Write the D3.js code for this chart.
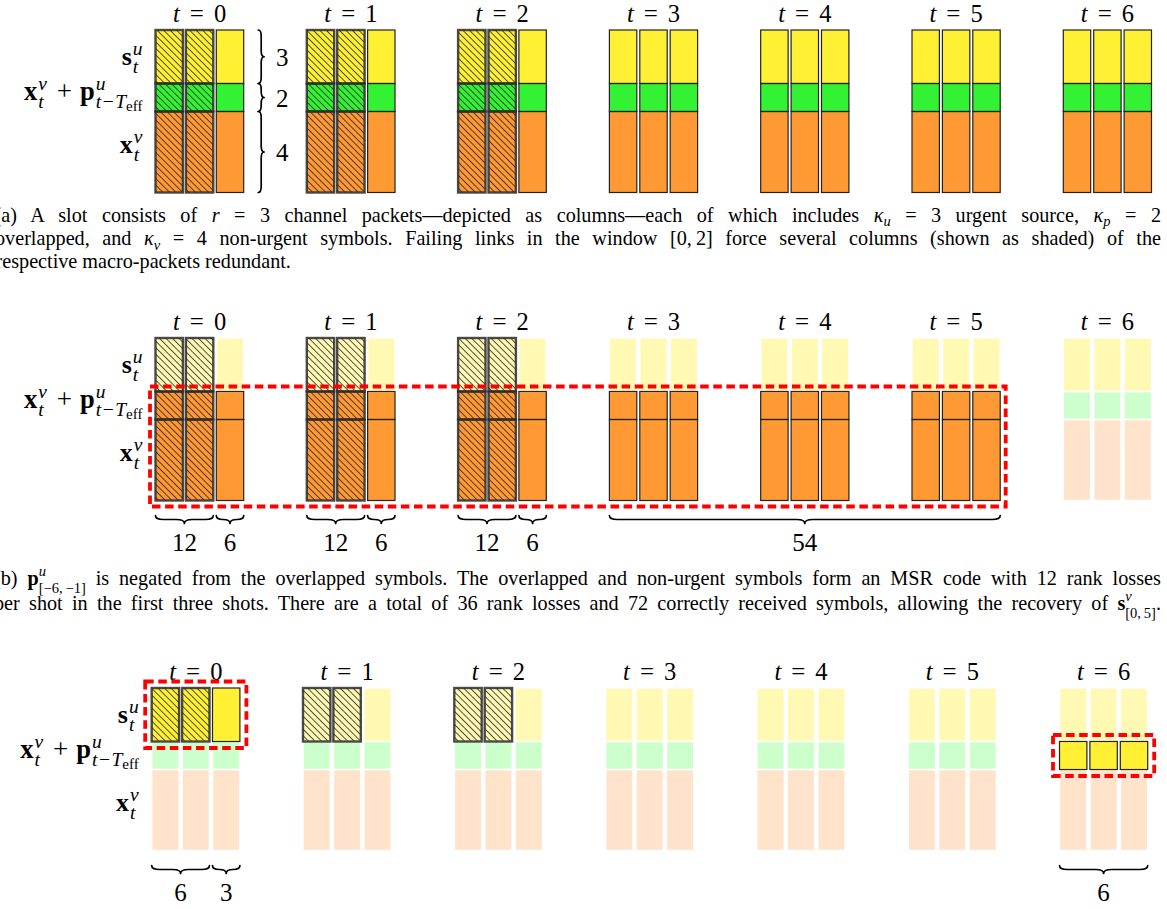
<!DOCTYPE html>
<html>
<head>
<meta charset="utf-8">
<script src="https://cdn.jsdelivr.net/npm/d3@7"></script>
<style>
  html, body { margin: 0; padding: 0; background: #fff; }
  svg { display: block; }
  text { font-family: "Liberation Serif", "Times New Roman", serif; fill: #000; }
</style>
</head>
<body>
<svg id="fig" width="1167" height="909"></svg>
<script>
// ---- data ---------------------------------------------------------------
// time slots of the window
const slots = [0, 1, 2, 3, 4, 5, 6];
// channel packets (columns) per slot
const packets = [0, 1, 2];
// symbols per channel packet: urgent, overlapped, non-urgent
const kappa = [3, 2, 4];
// columns lost to failing links in each slot
const lostColumns = [2, 2, 2, 0, 0, 0, 0];
// brace annotations
const kappaLabels = ["3", "2", "4"];
const rankLossLabels = ["12", "12", "12"];
const receivedLabels = ["6", "6", "6"];
const windowLabel = "54";
const urgentLabels = ["6", "3"];
const recoveredLabel = "6";

// ---- styling ------------------------------------------------------------
const fullFill = ["#FFF033", "#33F233", "#FF9933"];
const fadedFill = ["#FFF9B4", "#CCFFCC", "#FFE3CA"];

const svg = d3.select("#fig");
const defs = svg.append("defs");
const pat = defs.append("pattern")
  .attr("id", "hatch").attr("patternUnits", "userSpaceOnUse")
  .attr("width", 4.6).attr("height", 4.6)
  .attr("patternTransform", "rotate(-45)");
pat.append("line").attr("x1", 2.3).attr("x2", 2.3).attr("y1", -1).attr("y2", 6)
  .attr("stroke", "#1c1c1c").attr("stroke-width", 0.75);

// ---- scales -------------------------------------------------------------
const xSlot = d3.scaleLinear().domain([0, 6]).range([155.5, 155.5 + 6 * 151.3]);
const xCol = d3.scaleLinear().domain([0, 1]).range([0, 30.4]);
const colW = 27.4;
const rowEdges = [0, ...d3.cumsum(kappa)];           // 0,3,5,9
const yRow = d3.scaleLinear().domain(rowEdges).range([30, 83.5, 111.5, 192.5]);

const panels = [
  { id: "a", dx: 0, dy: 0 },
  { id: "b", dx: 0, dy: 308 },
  { id: "c", dx: -3.8, dy: 658 }
];

// ---- text measuring & simple math layout ---------------------------------
const meas = svg.append("text").attr("x", -2000).attr("y", -2000);
function fontAttrs(sel, r) {
  sel.attr("font-size", r.s || 26)
     .attr("font-style", r.f === "it" ? "italic" : "normal")
     .attr("font-weight", r.f === "bf" ? "bold" : "normal");
}
function textWidth(r) {
  fontAttrs(meas, r);
  meas.text(r.t);
  return meas.node().getComputedTextLength();
}
function layoutMath(items, supDy, subDy) {
  let x = 0; const runs = [];
  const place = (list, base, dy) => {
    let w = 0;
    list.forEach(r => {
      if (r.gap !== undefined) { w += r.gap; return; }
      runs.push({ ...r, x: base + w, dy: (r.dy || 0) + dy });
      w += textWidth(r);
    });
    return w;
  };
  items.forEach(it => {
    if (it.gap !== undefined) { x += it.gap; return; }
    if (it.sup || it.sub) {
      const w1 = place(it.sup || [], x, supDy);
      const w2 = place(it.sub || [], x, subDy);
      x += Math.max(w1, w2);
    } else {
      runs.push({ ...it, x, dy: it.dy || 0 });
      x += textWidth(it);
    }
  });
  return { runs, w: x };
}
function drawMath(g, x, y, items, anchor, supDy = -10.5, subDy = 7.5) {
  const L = layoutMath(items, supDy, subDy);
  const x0 = anchor === "end" ? x - L.w : anchor === "middle" ? x - L.w / 2 : x;
  L.runs.forEach(r => {
    const t = g.append("text").attr("x", x0 + r.x).attr("y", y + r.dy).text(r.t);
    fontAttrs(t, r);
  });
}

// ---- cell appearance per panel -------------------------------------------
function cellStyle(panel, t, c, r) {
  const lost = c < lostColumns[t];
  if (panel === "a") return { fill: fullFill[r], hatch: lost, edge: lost ? "heavy" : "thin" };
  if (panel === "b") {
    if (t === 6) return { fill: fadedFill[r], hatch: false, edge: "none" };
    if (r === 0) return { fill: fadedFill[0], hatch: lost, edge: lost ? "heavy" : "none" };
    return { fill: fullFill[2], hatch: lost, edge: lost ? "heavy" : "thin" };
  }
  if (r === 0) {
    if (t === 0) return { fill: fullFill[0], hatch: lost, edge: lost ? "heavy" : "thin" };
    return { fill: fadedFill[0], hatch: lost, edge: lost ? "heavy" : "none" };
  }
  if (r === 1 && t === 6) return { fill: fullFill[0], hatch: false, edge: "thin" };
  return { fill: fadedFill[r], hatch: false, edge: "none" };
}
const edgeRank = { none: 0, thin: 1, heavy: 2 };

// ---- braces ---------------------------------------------------------------
function braceDown(x1, x2, y, h) {
  const m = (x1 + x2) / 2, q = Math.min(h, (x2 - x1) / 4), yb = y + h / 2;
  return `M${x1},${y} Q${x1},${yb} ${x1 + q},${yb} L${m - q},${yb} Q${m},${yb} ${m},${y + h} ` +
         `Q${m},${yb} ${m + q},${yb} L${x2 - q},${yb} Q${x2},${yb} ${x2},${y}`;
}
function braceRight(y1, y2, x, h) {
  const m = (y1 + y2) / 2, q = Math.min(h, (y2 - y1) / 4), xb = x + h / 2;
  return `M${x},${y1} Q${xb},${y1} ${xb},${y1 + q} L${xb},${m - q} Q${xb},${m} ${x + h},${m} ` +
         `Q${xb},${m} ${xb},${m + q} L${xb},${y2 - q} Q${xb},${y2} ${x},${y2}`;
}
function drawBrace(g, d) {
  g.append("path").attr("d", d).attr("fill", "none").attr("stroke", "#000")
    .attr("stroke-width", 1.7).attr("stroke-linecap", "round").attr("stroke-linejoin", "round");
}

// ---- draw panels ------------------------------------------------------------
const S = 19.5;   // script size
const rowLabelItems = [
  [{ t: "s", f: "bf" }, { gap: 1 }, { sup: [{ t: "u", f: "it", s: S }], sub: [{ t: "t", f: "it", s: S }] }],
  [{ t: "x", f: "bf", s: 26.5 }, { gap: 1 }, { sup: [{ t: "v", f: "it", s: S }], sub: [{ t: "t", f: "it", s: S }] },
   { gap: 10 }, { t: "+", f: "rm", s: 27 }, { gap: 8 }, { t: "p", f: "bf", s: 26.5 }, { gap: 1 },
   { sup: [{ t: "u", f: "it", s: S }],
     sub: [{ t: "t", f: "it", s: S }, { gap: 1.5 }, { t: "\u2212", f: "rm", s: S }, { gap: 1.5 },
           { t: "T", f: "it", s: S }, { t: "eff", f: "rm", s: 15, dy: 3.5 }] }],
  [{ t: "x", f: "bf" }, { gap: 1 }, { sup: [{ t: "v", f: "it", s: S }], sub: [{ t: "t", f: "it", s: S }] }]
];
const rowLabelBase = [65, 100, 153];

panels.forEach(P => {
  const g = svg.append("g").attr("class", "panel-" + P.id);
  const cells = [];
  slots.forEach(t => packets.forEach(c => kappa.forEach((k, r) => {
    const st = cellStyle(P.id, t, c, r);
    const y0 = yRow(rowEdges[r]), y1 = yRow(rowEdges[r + 1]);
    cells.push({ x: P.dx + xSlot(t) + xCol(c), y: P.dy + y0, w: colW, h: y1 - y0, ...st });
  })));

  const fills = g.append("g"), hatches = g.append("g"), edges = g.append("g");
  fills.selectAll("rect").data(cells).join("rect")
    .attr("x", d => d.x).attr("y", d => d.y).attr("width", d => d.w).attr("height", d => d.h)
    .attr("fill", d => d.fill);
  hatches.selectAll("rect").data(cells.filter(d => d.hatch)).join("rect")
    .attr("x", d => d.x).attr("y", d => d.y).attr("width", d => d.w).attr("height", d => d.h)
    .attr("fill", "url(#hatch)");
  edges.selectAll("rect").data(cells.slice().sort((a, b) => edgeRank[a.edge] - edgeRank[b.edge])).join("rect")
    .attr("x", d => d.x).attr("y", d => d.y).attr("width", d => d.w).attr("height", d => d.h)
    .attr("fill", "none")
    .attr("stroke", d => d.edge === "none" ? "#fff" : d.edge === "thin" ? "#222" : "#2b2b2b")
    .attr("stroke-opacity", d => d.edge === "heavy" ? 0.85 : 1)
    .attr("stroke-width", d => d.edge === "none" ? 1.4 : d.edge === "thin" ? 1.2 : 2.4);

  // slot titles
  slots.forEach(t => {
    const cx = P.dx + xSlot(t) + (xCol(2) + colW) / 2;
    drawMath(g, cx, P.dy + yRow(0) - 8.5,
      [{ t: "t", f: "it", s: 24.5 }, { gap: 10 }, { t: "=", f: "rm", s: 25 }, { gap: 10 }, { t: String(t), f: "rm", s: 24.5 }],
      "middle");
  });

  // row labels
  rowLabelItems.forEach((items, i) => {
    drawMath(g, P.dx + 142.5, P.dy + rowLabelBase[i], items, "end");
  });
});

// ---- panel (a): symbol counts per packet ---------------------------------
{
  const g = svg.append("g");
  const bx = xSlot(0) + xCol(2) + colW + 14.5;
  kappa.forEach((k, r) => {
    const y1 = yRow(rowEdges[r]), y2 = yRow(rowEdges[r + 1]);
    drawBrace(g, braceRight(y1, y2, bx, 6));
    g.append("text").attr("x", bx + 24).attr("y", (y1 + y2) / 2 + 9)
      .attr("text-anchor", "middle").attr("font-size", 25).text(kappaLabels[r]);
  });
}

// ---- panel (b): MSR window ---------------------------------------------------
{
  const P = panels[1], g = svg.append("g");
  const yb = P.dy + yRow(9) + 15;
  [0, 1, 2].forEach(t => {
    const a1 = xSlot(t) + xCol(0), a2 = xSlot(t) + xCol(1) + colW;
    const b1 = xSlot(t) + xCol(2), b2 = xSlot(t) + xCol(2) + colW;
    drawBrace(g, braceDown(a1, a2, yb, 8));
    drawBrace(g, braceDown(b1, b2, yb, 8));
    g.append("text").attr("x", (a1 + a2) / 2).attr("y", yb + 35).attr("text-anchor", "middle")
      .attr("font-size", 25).text(rankLossLabels[t]);
    g.append("text").attr("x", (b1 + b2) / 2).attr("y", yb + 35).attr("text-anchor", "middle")
      .attr("font-size", 25).text(receivedLabels[t]);
  });
  const w1 = xSlot(3) + xCol(0), w2 = xSlot(5) + xCol(2) + colW;
  drawBrace(g, braceDown(w1, w2, yb, 8));
  g.append("text").attr("x", (w1 + w2) / 2).attr("y", yb + 35).attr("text-anchor", "middle")
    .attr("font-size", 25).text(windowLabel);

  const pad = 5.5;
  g.append("rect")
    .attr("x", xSlot(0) + xCol(0) - pad).attr("y", P.dy + yRow(3) - 5)
    .attr("width", (w2 + pad) - (xSlot(0) + xCol(0) - pad))
    .attr("height", (yRow(9) + 6) - (yRow(3) - 5))
    .attr("fill", "none").attr("stroke", "#ff0000").attr("stroke-width", 3.8)
    .attr("stroke-dasharray", "8.5 4.6");
}

// ---- panel (c): urgent recovery ---------------------------------------------
{
  const P = panels[2], g = svg.append("g");
  const yb = P.dy + yRow(9) + 15;
  const a1 = P.dx + xSlot(0) + xCol(0), a2 = P.dx + xSlot(0) + xCol(1) + colW;
  const b1 = P.dx + xSlot(0) + xCol(2), b2 = b1 + colW;
  drawBrace(g, braceDown(a1, a2, yb, 8));
  drawBrace(g, braceDown(b1, b2, yb, 8));
  g.append("text").attr("x", (a1 + a2) / 2).attr("y", yb + 35).attr("text-anchor", "middle")
    .attr("font-size", 25).text(urgentLabels[0]);
  g.append("text").attr("x", (b1 + b2) / 2).attr("y", yb + 35).attr("text-anchor", "middle")
    .attr("font-size", 25).text(urgentLabels[1]);
  const c1 = P.dx + xSlot(6) + xCol(0), c2 = P.dx + xSlot(6) + xCol(2) + colW;
  drawBrace(g, braceDown(c1, c2, yb, 8));
  g.append("text").attr("x", (c1 + c2) / 2).attr("y", yb + 35).attr("text-anchor", "middle")
    .attr("font-size", 25).text(recoveredLabel);

  const pad = 6.5;
  const box = (x1, x2, y1, y2) => g.append("rect")
    .attr("x", x1 - pad).attr("y", y1 - pad).attr("width", x2 - x1 + 2 * pad).attr("height", y2 - y1 + 2 * pad)
    .attr("fill", "none").attr("stroke", "#ff0000").attr("stroke-width", 3.8)
    .attr("stroke-dasharray", "8.5 4.6");
  box(a1, b2, P.dy + yRow(0), P.dy + yRow(3));
  box(c1, c2, P.dy + yRow(3), P.dy + yRow(5));
}

// ---- captions ------------------------------------------------------------------
const RIGHT = 1161;
function drawCaptionLine(x, y, runs, justify) {
  const text = svg.append("text").attr("x", x).attr("y", y).attr("font-size", 20.2);
  let cur = 0, prev = null;
  runs.forEach(r => {
    const ts = text.append("tspan").text(r.t);
    if (r.it) ts.attr("font-style", "italic");
    if (r.bf) ts.attr("font-weight", "bold");
    if (r.s) ts.attr("font-size", r.s);
    const off = r.off || 0;
    if (off !== cur) { ts.attr("dy", off - cur); cur = off; }
    if (r.back && prev) ts.attr("dx", -prev.node().getComputedTextLength());
    prev = ts;
  });
  if (justify) {
    const bb = text.node().getBBox();
    const n = (text.text().match(/ /g) || []).length;
    const ws = (RIGHT - (bb.x + bb.width)) / n;
    text.style("word-spacing", ws + "px");
  }
}
const T = t => ({ t });
const I = t => ({ t, it: true });

drawCaptionLine(-5.5, 221.7, [
  T("(a) A slot consists of "), I("r"), T(" = 3 channel packets\u2014depicted as columns\u2014each of which includes "),
  I("\u03BA"), { t: "u", it: true, s: 14.5, off: 4.5 }, T(" = 3 urgent source, "),
  I("\u03BA"), { t: "p", it: true, s: 14.5, off: 4.5 }, T(" = 2")
], true);
drawCaptionLine(-5, 245, [
  T("overlapped, and "), I("\u03BA"), { t: "v", it: true, s: 14.5, off: 4.5 },
  T(" = 4 non-urgent symbols. Failing links in the window [0,\u20092] force several columns (shown as shaded) of the")
], true);
drawCaptionLine(-4.5, 268, [T("respective macro-packets redundant.")], false);

drawCaptionLine(-6, 585.3, [
  T("(b) "), { t: "p", bf: true }, { t: "u", it: true, s: 14.5, off: -9.5 },
  { t: "[\u22126,\u2009\u22121]", s: 14.5, off: 8, back: true },
  T(" is negated from the overlapped symbols. The overlapped and non-urgent symbols form an MSR code with 12 rank losses")
], true);
drawCaptionLine(-6, 610, [
  T("per shot in the first three shots. There are a total of 36 rank losses and 72 correctly received symbols, allowing the recovery of "),
  { t: "s", bf: true }, { t: "v", it: true, s: 14.5, off: -9.5 }, { t: "[0,\u20095]", s: 14.5, off: 8, back: true }, T(".")
], true);

meas.remove();
</script>
</body>
</html>
